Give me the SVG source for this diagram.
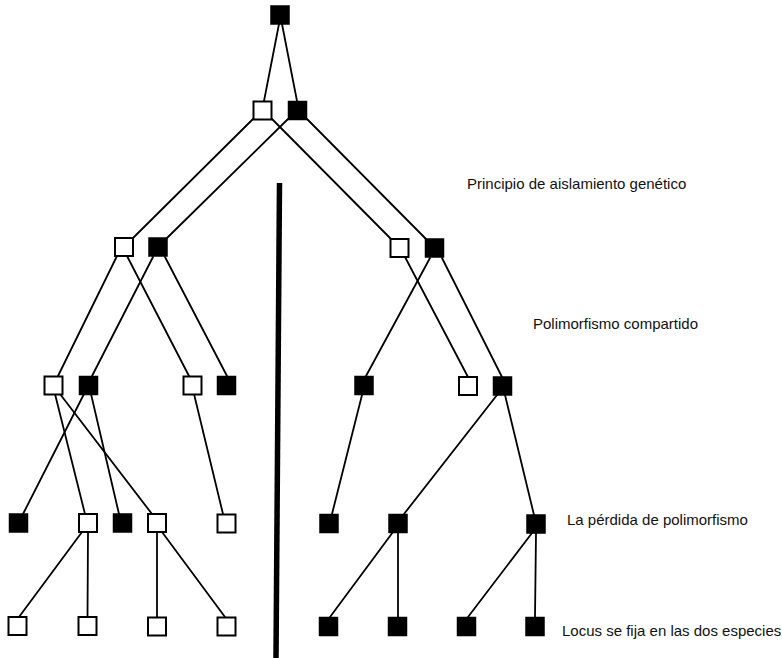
<svg xmlns="http://www.w3.org/2000/svg" width="782" height="658" viewBox="0 0 782 658">
<style>
.c line{stroke:#000;stroke-width:1.8;stroke-linecap:round}
.b{fill:#000;stroke:#000;stroke-width:1.5}
.w{fill:#fff;stroke:#000;stroke-width:2}
.t{font-family:"Liberation Sans",Arial,sans-serif;font-size:15px;fill:#111}
</style>
<defs>
<rect id="sq" x="-9" y="-9" width="18" height="18"/>
</defs>
<rect width="782" height="658" fill="#fff"/>
<g id="connectors" class="c">
<line x1="279" y1="24" x2="264" y2="101"/>
<line x1="282" y1="24" x2="297" y2="101"/>
<line x1="253" y1="119" x2="133" y2="238"/>
<line x1="288" y1="119" x2="167" y2="238"/>
<line x1="272" y1="119" x2="391" y2="239"/>
<line x1="307" y1="119" x2="426" y2="239"/>
<line x1="117" y1="256" x2="58" y2="376"/>
<line x1="127" y1="256" x2="189" y2="376"/>
<line x1="153" y1="257" x2="92" y2="376"/>
<line x1="165" y1="257" x2="227" y2="376"/>
<line x1="405" y1="257" x2="468" y2="377"/>
<line x1="430" y1="258" x2="366" y2="376"/>
<line x1="442" y1="258" x2="502" y2="377"/>
<line x1="55" y1="394" x2="85" y2="514"/>
<line x1="60" y1="394" x2="152" y2="514"/>
<line x1="84" y1="394" x2="23" y2="514"/>
<line x1="91" y1="394" x2="119" y2="514"/>
<line x1="194" y1="394" x2="223" y2="514"/>
<line x1="362" y1="395" x2="332" y2="514"/>
<line x1="497" y1="395" x2="404" y2="514"/>
<line x1="505" y1="395" x2="534" y2="515"/>
<line x1="82" y1="532" x2="19" y2="617"/>
<line x1="88" y1="532" x2="87.5" y2="617"/>
<line x1="157" y1="532" x2="157" y2="617"/>
<line x1="162" y1="532" x2="225" y2="617"/>
<line x1="393" y1="532" x2="330" y2="617"/>
<line x1="398" y1="532" x2="398" y2="617"/>
<line x1="532" y1="533" x2="468" y2="617"/>
<line x1="536" y1="533" x2="535" y2="617"/>
</g>
<g id="divider"><line x1="279.5" y1="183" x2="276" y2="658" stroke="#000" stroke-width="5.5"/></g>
<g id="n0"><use href="#sq" class="b" x="280" y="15"/></g>
<g id="n1w"><use href="#sq" class="w" x="262.5" y="110.5"/></g>
<g id="n1b"><use href="#sq" class="b" x="297.5" y="110.5"/></g>
<g id="n2lw"><use href="#sq" class="w" x="124" y="247"/></g>
<g id="n2lb"><use href="#sq" class="b" x="158" y="247"/></g>
<g id="n2rw"><use href="#sq" class="w" x="399.5" y="248"/></g>
<g id="n2rb"><use href="#sq" class="b" x="434.5" y="248"/></g>
<g id="n3a"><use href="#sq" class="w" x="53.5" y="385.5"/></g>
<g id="n3b"><use href="#sq" class="b" x="88.5" y="385.5"/></g>
<g id="n3c"><use href="#sq" class="w" x="192.5" y="385.5"/></g>
<g id="n3d"><use href="#sq" class="b" x="226.5" y="385.5"/></g>
<g id="n3e"><use href="#sq" class="b" x="364" y="385.5"/></g>
<g id="n3f"><use href="#sq" class="w" x="468" y="386"/></g>
<g id="n3g"><use href="#sq" class="b" x="502.5" y="386"/></g>
<g id="n4a"><use href="#sq" class="b" x="18.5" y="523"/></g>
<g id="n4b"><use href="#sq" class="w" x="88" y="523"/></g>
<g id="n4c"><use href="#sq" class="b" x="122.5" y="523"/></g>
<g id="n4d"><use href="#sq" class="w" x="157" y="523"/></g>
<g id="n4e"><use href="#sq" class="w" x="226.5" y="523.5"/></g>
<g id="n4f"><use href="#sq" class="b" x="329" y="523.5"/></g>
<g id="n4g"><use href="#sq" class="b" x="398" y="523.5"/></g>
<g id="n4h"><use href="#sq" class="b" x="536" y="524"/></g>
<g id="n5a"><use href="#sq" class="w" x="17.5" y="626"/></g>
<g id="n5b"><use href="#sq" class="w" x="87.5" y="626"/></g>
<g id="n5c"><use href="#sq" class="w" x="157" y="626.5"/></g>
<g id="n5d"><use href="#sq" class="w" x="226.5" y="626.5"/></g>
<g id="n5e"><use href="#sq" class="b" x="328.5" y="626.5"/></g>
<g id="n5f"><use href="#sq" class="b" x="397.5" y="626.5"/></g>
<g id="n5g"><use href="#sq" class="b" x="466.5" y="626.5"/></g>
<g id="n5h"><use href="#sq" class="b" x="535" y="626.5"/></g>
<g id="labels">
<text class="t" x="467" y="189">Principio de aislamiento genético</text>
<text class="t" x="533" y="329">Polimorfismo compartido</text>
<text class="t" x="567" y="525">La pérdida de polimorfismo</text>
<text class="t" x="562" y="636">Locus se fija en las dos especies</text>
</g>
</svg>
